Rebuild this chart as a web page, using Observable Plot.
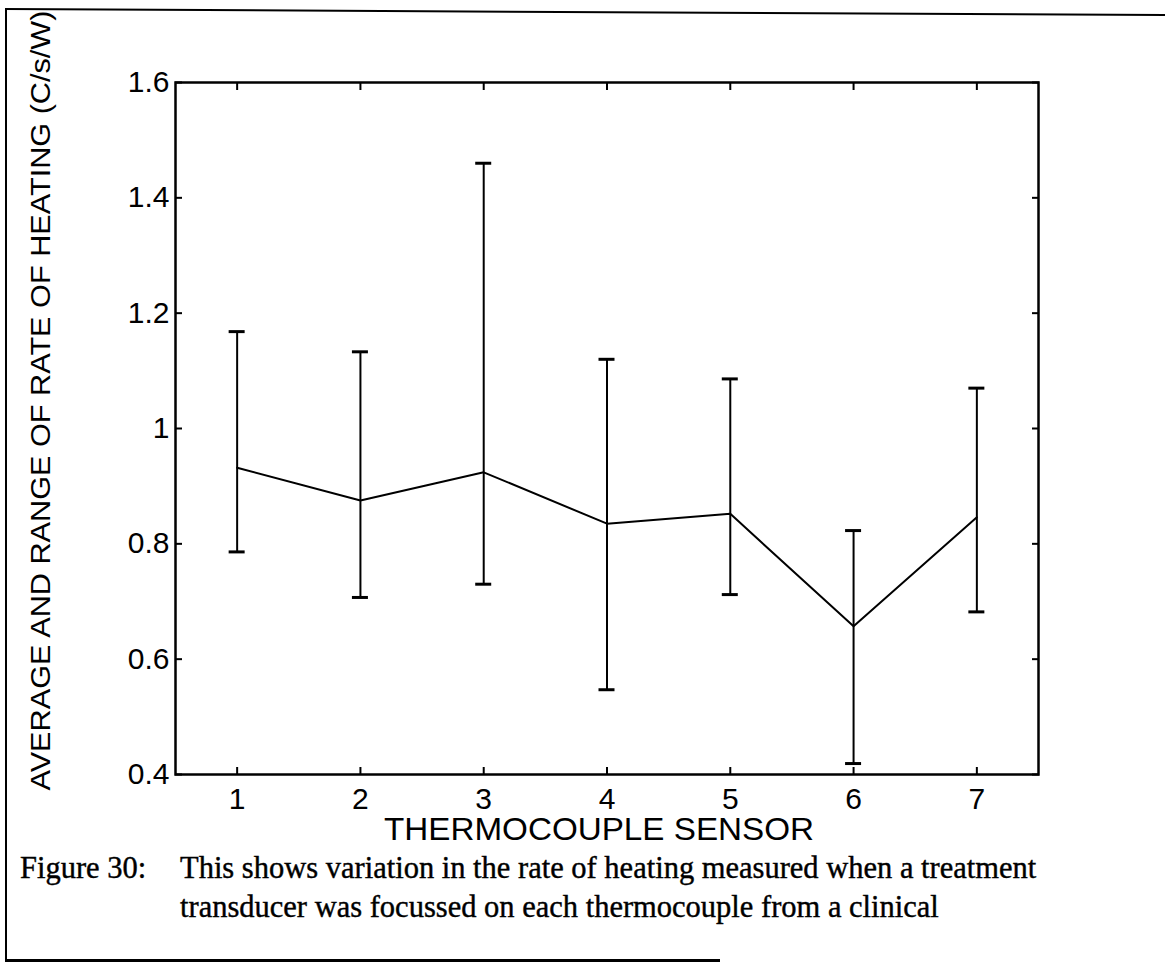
<!DOCTYPE html>
<html>
<head>
<meta charset="utf-8">
<script src="https://cdn.jsdelivr.net/npm/d3@7"></script>
<script src="https://cdn.jsdelivr.net/npm/@observablehq/plot@0.6"></script>
<style>
  html, body { margin: 0; padding: 0; background: #fff; }
  body { width: 1165px; height: 976px; position: relative; overflow: hidden; }
  #topline { position: absolute; left: 5px; top: 8px; width: 1200px; height: 0;
          border-top: 2px solid #000; transform: rotate(0.3deg); transform-origin: 0 0; }
  #leftline { position: absolute; left: 5px; top: 9px; width: 0; height: 952px;
          border-left: 2px solid #000; }
  #bottomline { position: absolute; left: 5px; top: 959px; width: 715px; height: 0;
          border-top: 3px solid #000; }
  #chart { position: absolute; left: 0; top: 0; }
  #caption { position: absolute; left: 0; top: 0; font-family: "Liberation Serif", "Times New Roman", serif;
          font-size: 30.5px; line-height: 34px; color: #000; -webkit-text-stroke: 0.4px #000; }
  .cl { position: absolute; white-space: nowrap; }
</style>
</head>
<body>
<div id="topline"></div>
<div id="leftline"></div>
<div id="bottomline"></div>
<div id="chart"></div>
<div id="caption"></div>
<script>
// ---- data ----
const sensors  = [1, 2, 3, 4, 5, 6, 7];
const averages = [0.932, 0.875, 0.924, 0.835, 0.852, 0.657, 0.846];
const lows     = [0.786, 0.707, 0.730, 0.547, 0.712, 0.419, 0.682];
const highs    = [1.168, 1.133, 1.460, 1.120, 1.086, 0.823, 1.070];
const yTicks   = [0.4, 0.6, 0.8, 1, 1.2, 1.4, 1.6];
const xLabel   = "THERMOCOUPLE SENSOR";
const yLabel   = "AVERAGE AND RANGE OF RATE OF HEATING (C/s/W)";
const captionHead = "Figure 30:";
const captionLines = [
  "This shows variation in the rate of heating measured when a treatment",
  "transducer was focussed on each thermocouple from a clinical"
];

const data = sensors.map((s, i) => ({sensor: s, avg: averages[i], lo: lows[i], hi: highs[i]}));

const chart = Plot.plot({
  width: 1165,
  height: 860,
  marginLeft: 175,
  marginRight: 127,
  marginTop: 82,
  marginBottom: 86,
  style: {fontFamily: "'Liberation Sans', Arial, sans-serif", fontSize: "30px", color: "#000",
          background: "transparent", overflow: "visible"},
  x: {domain: [0.5, 7.5]},
  y: {domain: [0.4, 1.6]},
  marks: [
    Plot.frame({stroke: "#000", strokeWidth: 2.5}),
    Plot.axisX({ticks: sensors, anchor: "bottom", tickSize: -7, tickPadding: 20, strokeWidth: 2,
                tickFormat: d => String(d), label: null, fontSize: 30}),
    Plot.axisX({ticks: sensors, anchor: "top", tickSize: -7, strokeWidth: 2, tickFormat: () => "", label: null}),
    Plot.axisY({ticks: yTicks, anchor: "left", tickSize: -7, tickPadding: 13, strokeWidth: 2,
                tickFormat: d => String(d), label: null, fontSize: 30}),
    Plot.axisY({ticks: yTicks, anchor: "right", tickSize: -7, strokeWidth: 2, tickFormat: () => "", label: null}),
    Plot.text([xLabel], {text: d => d, frameAnchor: "bottom", textAnchor: "middle", lineAnchor: "middle",
                         dy: 56, dx: -8, fontSize: 31, fill: "#000", className: "xlab"}),
    Plot.text([yLabel], {text: d => d, frameAnchor: "left", textAnchor: "middle", rotate: -90, lineAnchor: "middle",
                         dx: -134, dy: -28, fontSize: 28, fill: "#000", className: "ylab"}),
    Plot.ruleX(data, {x: "sensor", y1: "lo", y2: "hi", stroke: "#000", strokeWidth: 2}),
    Plot.ruleY(data, {y: "hi", x1: "sensor", x2: "sensor", insetLeft: -8, insetRight: -8, stroke: "#000", strokeWidth: 3}),
    Plot.ruleY(data, {y: "lo", x1: "sensor", x2: "sensor", insetLeft: -8, insetRight: -8, stroke: "#000", strokeWidth: 3}),
    Plot.line(data, {x: "sensor", y: "avg", stroke: "#000", strokeWidth: 2})
  ]
});
// the scanned labels are set in a tall, narrow face: fit them to the reference's length
d3.select(chart).selectAll(".xlab text").attr("textLength", 430).attr("lengthAdjust", "spacingAndGlyphs");
d3.select(chart).selectAll(".ylab text").attr("textLength", 780).attr("lengthAdjust", "spacingAndGlyphs");
document.getElementById("chart").appendChild(chart);

const cap = document.getElementById("caption");
const top0 = 851;
const head = document.createElement("div");
head.className = "cl";
head.style.left = "20px"; head.style.top = top0 + "px";
head.textContent = captionHead;
cap.appendChild(head);
captionLines.forEach((t, i) => {
  const d = document.createElement("div");
  d.className = "cl";
  d.style.left = "180px";
  d.style.top = (top0 + i * 39) + "px";
  d.textContent = t;
  cap.appendChild(d);
});
</script>
</body>
</html>
